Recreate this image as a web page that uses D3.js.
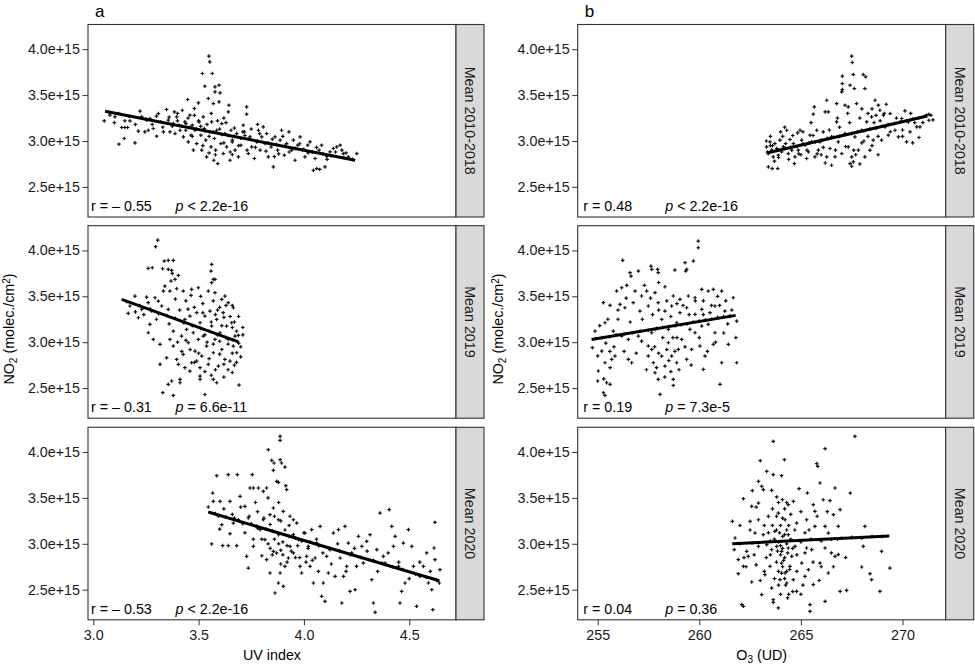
<!DOCTYPE html>
<html>
<head>
<meta charset="utf-8">
<script src="https://cdn.jsdelivr.net/npm/d3@7"></script>
<style>
  body { margin: 0; background: #fff; }
  text { font-family: "Liberation Sans", Arial, Helvetica, sans-serif; }
</style>
</head>
<body>
<div id="chart"></div>
<script>
// NO2 values are in units of 1e15 molec./cm2
var rowLabels = ["Mean 2010-2018", "Mean 2019", "Mean 2020"];
var panelLetters = ["a", "b"];
var yTicks = [2.5, 3.0, 3.5, 4.0];
var uvTicks = [3.0, 3.5, 4.0, 4.5];
var o3Ticks = [255, 260, 265, 270];

var uvStats = [["r = \u2013 0.55", "< 2.2e-16"], ["r = \u2013 0.31", "= 6.6e-11"], ["r = \u2013 0.53", "< 2.2e-16"]];
var o3Stats = [["r = 0.48", "< 2.2e-16"], ["r = 0.19", "= 7.3e-5"], ["r = 0.04", "= 0.36"]];

// fitted lines [x0, y0, x1, y1]
var uvFits = [[3.056, 3.325, 4.243, 2.79], [3.135, 3.466, 3.689, 3.004], [3.546, 3.346, 4.643, 2.598]];
var o3Fits = [[263.32, 2.87, 271.22, 3.273], [254.70, 3.03, 261.79, 3.292], [261.62, 3.0, 269.35, 3.085]];

var uv2010 = [[3.052,3.219],[3.079,3.281],[3.103,3.263],[3.135,3.147],[3.150,3.147],[3.163,3.147],[3.147,3.027],[3.122,2.965],[3.174,3.219],[3.198,2.98],[3.214,3.107],[3.222,3.325],[3.230,3.263],[3.245,3.099],[3.253,3.227],[3.261,3.117],[3.269,3.245],[3.285,3.136],[3.301,3.052],[3.309,3.299],[3.333,3.099],[3.348,3.343],[3.356,3.227],[3.364,3.099],[3.375,3.161],[3.385,3.317],[3.388,3.081],[3.396,3.263],[3.407,3.172],[3.412,3.117],[3.423,3.335],[3.428,3.045],[3.435,3.208],[3.439,3.117],[3.448,3.452],[3.451,2.99],[3.459,3.281],[3.464,3.063],[3.470,3.172],[3.475,2.9],[3.480,3.354],[3.483,3.117],[3.491,2.972],[3.499,3.415],[3.502,3.208],[3.511,3.063],[3.515,2.9],[3.518,3.735],[3.522,3.263],[3.527,3.136],[3.53,3.597],[3.534,3.009],[3.538,2.827],[3.546,3.463],[3.549,3.924],[3.553,3.862],[3.554,3.099],[3.559,2.936],[3.562,3.208],[3.565,3.735],[3.570,3.408],[3.572,2.79],[3.575,3.027],[3.578,3.59],[3.578,3.535],[3.581,2.9],[3.586,3.117],[3.591,2.754],[3.597,3.608],[3.597,3.426],[3.602,3.524],[3.606,2.972],[3.610,3.19],[3.617,2.863],[3.625,3.081],[3.633,2.936],[3.641,3.317],[3.644,3.39],[3.649,2.79],[3.654,3.117],[3.660,3.009],[3.673,2.9],[3.681,3.081],[3.689,2.827],[3.701,2.954],[3.712,3.172],[3.717,3.099],[3.728,3.372],[3.728,3.292],[3.736,2.863],[3.744,3.045],[3.752,2.936],[3.765,2.809],[3.776,2.99],[3.784,3.117],[3.792,2.9],[3.8,3.045],[3.807,3.154],[3.815,2.972],[3.823,3.081],[3.831,2.827],[3.844,2.936],[3.855,2.718],[3.863,3.045],[3.875,2.9],[3.887,3.009],[3.894,3.117],[3.907,2.845],[3.918,2.972],[3.929,3.099],[3.942,2.9],[3.95,3.009],[3.958,2.79],[3.971,2.954],[3.982,3.045],[3.993,2.9],[4.005,2.827],[4.018,2.954],[4.029,2.99],[4.04,2.882],[4.053,2.809],[4.061,2.7],[4.072,2.9],[4.084,2.954],[4.1,2.718],[4.108,2.834],[4.124,2.882],[4.14,2.918],[4.156,2.936],[4.172,2.954],[4.18,2.9],[4.187,2.863],[4.211,2.827],[4.251,2.863],[4.045,2.68],[4.075,2.69],
  [3.08,3.31],[3.12,3.30],[3.17,3.27],[3.25,3.24],[3.32,3.21],[3.38,3.19],[3.42,3.16],[3.46,3.15],[3.49,3.13],[3.53,3.11],[3.57,3.10],[3.61,3.07],[3.64,3.06],[3.67,3.05],[3.70,3.03],[3.74,3.02],[3.78,3.0],[3.83,2.98],[3.87,2.96],[3.91,2.95],[3.96,2.92],[4.0,2.91],[4.04,2.88],[4.09,2.86],[4.13,2.84],[4.19,2.82],[3.44,3.19],[3.51,3.16],[3.55,3.05],[3.60,3.13],[3.66,2.99],[3.72,3.06],
  [3.36,3.26],[3.40,3.22],[3.45,3.25],[3.47,3.05],[3.50,3.22],[3.52,2.95],[3.54,3.18],[3.56,3.30],[3.58,2.85],[3.59,3.22],[3.62,2.98],[3.63,3.20],[3.65,2.88],[3.67,3.14],[3.69,2.95],[3.71,3.10],[3.73,2.90],[3.75,3.13],[3.77,2.93],[3.79,3.08],[3.82,2.89],[3.85,3.02],[3.88,2.86],[3.90,3.05],[3.93,2.88],[3.98,2.97],[4.02,2.87],[4.06,2.93],[4.11,2.80],[4.15,2.88],[4.20,2.87],[4.23,2.80],[3.20,3.18],[3.28,3.18],[3.33,3.15],[3.30,3.27],[3.15,3.22],[3.10,3.20],[3.40,3.30],[3.48,3.28],[3.62,3.25],[3.78,3.18],[3.55,2.87],[3.66,2.85],[3.86,2.83]];

var uv2019 = [[3.306,4.112],[3.296,4.04],[3.261,3.804],[3.28,3.811],[3.337,3.884],[3.356,3.891],[3.38,3.891],[3.329,3.80],[3.356,3.793],[3.372,3.782],[3.375,3.749],[3.404,3.727],[3.388,3.684],[3.369,3.666],[3.34,3.611],[3.333,3.557],[3.364,3.557],[3.396,3.582],[3.427,3.557],[3.467,3.575],[3.499,3.593],[3.464,3.51],[3.562,3.847],[3.559,3.775],[3.57,3.684],[3.578,3.684],[3.562,3.648],[3.546,3.557],[3.578,3.539],[3.61,3.466],[3.625,3.502],[3.641,3.43],[3.665,3.375],[3.198,3.502],[3.253,3.491],[3.174,3.394],[3.166,3.314],[3.214,3.266],[3.23,3.357],[3.261,3.43],[3.277,3.339],[3.293,3.484],[3.309,3.448],[3.325,3.394],[3.356,3.357],[3.269,3.194],[3.261,3.103],[3.285,3.03],[3.317,2.976],[3.348,2.83],[3.317,2.758],[3.364,3.03],[3.38,2.958],[3.396,2.812],[3.404,2.758],[3.427,2.867],[3.419,3.067],[3.435,3.248],[3.443,3.139],[3.459,3.285],[3.451,2.994],[3.475,3.103],[3.483,2.903],[3.491,3.321],[3.499,3.03],[3.507,3.212],[3.507,2.722],[3.507,2.631],[3.507,2.595],[3.515,2.849],[3.522,3.067],[3.53,3.285],[3.538,2.958],[3.546,2.758],[3.554,3.339],[3.562,3.176],[3.57,2.885],[3.578,3.03],[3.586,3.248],[3.594,2.74],[3.602,3.103],[3.61,2.921],[3.617,3.321],[3.625,2.812],[3.633,3.176],[3.641,3.03],[3.649,2.794],[3.657,3.212],[3.665,2.958],[3.673,3.067],[3.681,2.885],[3.689,3.074],[3.692,2.533],[3.586,2.558],[3.57,2.595],[3.53,2.43],[3.33,2.45],[3.38,2.42],[3.356,2.54],[3.412,2.595],[3.412,2.558],[3.372,2.577],[3.459,2.685],[3.491,2.794],[3.435,2.722],[3.467,2.776],
  [3.16,3.44],[3.22,3.40],[3.27,3.36],[3.31,3.31],[3.35,3.29],[3.39,3.26],[3.43,3.21],[3.47,3.18],[3.51,3.15],[3.55,3.12],[3.59,3.08],[3.63,3.05],[3.66,3.03],[3.69,2.99],[3.45,3.36],[3.52,3.32],[3.58,3.30],[3.62,3.27],[3.54,3.00],[3.57,2.98],[3.60,3.01],[3.64,2.70],[3.67,2.75],[3.70,2.84],[3.68,3.12],[3.71,3.16],[3.66,3.40],[3.60,3.38],
  [3.41,3.35],[3.44,3.02],[3.46,2.92],[3.48,3.38],[3.50,2.88],[3.52,3.42],[3.53,3.08],[3.55,2.82],[3.56,3.22],[3.58,2.70],[3.59,3.35],[3.60,2.87],[3.61,3.18],[3.62,2.76],[3.63,3.40],[3.64,2.98],[3.65,3.28],[3.66,2.88],[3.67,3.22],[3.68,2.78],[3.69,3.28],[3.70,2.95],[3.71,3.08],[3.40,3.00],[3.42,2.90],[3.38,3.12],[3.36,3.20],[3.30,3.25],[3.24,3.30],[3.20,3.33],[3.48,2.78],[3.53,2.68],[3.56,2.64],[3.62,2.62],[3.66,2.67],[3.57,3.45],[3.51,3.50],[3.44,3.45],[3.39,3.47],[3.66,3.16]];

var uv2020 = [[3.887,4.17],[3.887,4.127],[3.831,4.025],[3.847,3.909],[3.858,3.88],[3.887,3.916],[3.894,3.88],[3.91,3.836],[3.855,3.80],[3.871,3.68],[3.879,3.669],[3.914,3.633],[3.918,3.59],[3.586,3.742],[3.641,3.753],[3.684,3.753],[3.755,3.753],[3.744,3.608],[3.76,3.608],[3.784,3.608],[3.807,3.571],[3.823,3.608],[3.567,3.553],[3.57,3.462],[3.602,3.462],[3.649,3.462],[3.697,3.517],[3.72,3.408],[3.594,3.30],[3.61,3.208],[3.665,3.226],[3.689,3.262],[3.736,3.281],[3.776,3.19],[3.807,3.262],[3.839,3.317],[3.855,3.39],[3.879,3.262],[3.902,3.353],[3.934,3.30],[3.95,3.262],[3.966,3.226],[3.546,3.401],[3.562,2.998],[3.614,2.98],[3.641,2.98],[3.681,2.98],[3.649,3.11],[3.728,2.863],[3.736,2.736],[3.76,2.972],[3.792,3.154],[3.815,3.045],[3.823,2.827],[3.839,2.682],[3.855,2.918],[3.863,2.464],[3.879,2.573],[3.902,2.537],[3.887,2.682],[3.91,2.754],[3.926,2.845],[3.934,2.972],[3.95,2.90],[3.974,3.045],[3.982,2.754],[3.989,2.682],[4.005,3.117],[4.013,2.863],[4.021,2.972],[4.029,2.754],[4.037,3.154],[4.045,2.573],[4.053,2.845],[4.061,3.008],[4.069,2.70],[4.077,3.19],[4.084,2.428],[4.092,2.573],[4.10,2.373],[4.108,2.863],[4.116,2.682],[4.124,2.936],[4.14,3.117],[4.148,2.645],[4.164,3.154],[4.172,2.845],[4.18,2.355],[4.188,2.645],[4.195,3.19],[4.203,2.754],[4.211,3.008],[4.219,2.482],[4.227,2.90],[4.243,2.50],[4.25,2.754],[4.259,3.081],[4.275,2.972],[4.282,2.79],[4.298,3.027],[4.314,3.099],[4.322,2.609],[4.33,2.355],[4.338,2.253],[4.346,2.936],[4.361,3.335],[4.377,2.863],[4.385,2.79],[4.405,3.372],[4.417,3.19],[4.425,2.972],[4.433,3.081],[4.449,2.754],[4.456,2.355],[4.464,2.482],[4.472,3.008],[4.48,2.573],[4.496,3.154],[4.512,2.972],[4.52,2.754],[4.535,2.319],[4.551,2.645],[4.567,2.754],[4.583,2.90],[4.591,2.573],[4.607,2.50],[4.612,2.282],[4.618,2.954],[4.622,2.827],[4.622,3.234],[4.646,2.718],[4.643,2.573],
  [3.58,3.33],[3.63,3.29],[3.67,3.28],[3.71,3.22],[3.75,3.22],[3.78,3.17],[3.82,3.16],[3.85,3.14],[3.88,3.10],[3.90,3.02],[3.92,2.98],[3.89,2.93],[3.87,2.90],[3.93,3.08],[3.96,3.06],[3.99,3.03],[4.03,3.02],[4.07,2.98],[4.12,2.95],[4.17,2.92],[4.22,2.88],[4.27,2.85],[4.33,2.82],[4.37,2.79],[4.42,2.75],[4.47,2.72],[4.53,2.67],[4.58,2.64],[4.63,2.60],[3.96,2.85],[4.01,2.80],[3.84,2.95],[3.80,2.87],[3.76,3.05],[3.86,3.05],[3.89,2.78],
  [3.78,3.35],[3.80,3.05],[3.81,3.28],[3.83,3.00],[3.84,3.21],[3.85,2.88],[3.86,3.30],[3.88,3.00],[3.89,3.25],[3.90,2.88],[3.91,3.15],[3.92,2.80],[3.93,3.20],[3.94,2.92],[3.95,3.10],[3.97,2.98],[3.98,2.85],[4.00,3.12],[4.02,2.95],[4.04,2.82],[4.06,3.05],[4.09,2.90],[4.13,2.78],[4.16,3.00],[4.20,2.70],[4.24,2.95],[4.30,2.92],[4.35,2.70],[4.40,2.90],[4.45,2.80],[4.50,2.62],[4.55,2.80],[4.60,2.70],[3.62,3.38],[3.66,3.32],[3.70,3.40],[3.74,3.30],[3.60,3.16],[3.77,3.45],[3.88,3.45],[3.83,3.50],[3.72,3.12]];

var o32010 = [[267.5,3.924],[267.53,3.855],[267.04,3.706],[267.58,3.724],[268.07,3.724],[268.19,3.699],[267.04,3.626],[267.04,3.56],[267.01,3.535],[267.42,3.608],[267.63,3.571],[268.15,3.571],[265.66,3.372],[265.61,3.292],[266.27,3.444],[266.19,3.317],[266.35,3.317],[266.76,3.408],[267.17,3.39],[267.33,3.372],[267.74,3.408],[268.65,3.444],[268.81,3.39],[268.89,3.335],[269.06,3.281],[269.39,3.299],[270.12,3.328],[271.19,3.281],[271.3,3.226],[270.86,3.154],[270.7,3.154],[270.37,3.099],[270.81,3.038],[270.2,2.99],[269.63,3.117],[269.8,3.045],[269.3,3.063],[268.97,3.009],[269.14,3.154],[268.48,3.263],[268.24,3.208],[267.99,3.117],[267.66,3.045],[267.83,2.90],[268.15,2.827],[268.4,2.90],[268.56,3.009],[267.5,2.827],[267.58,2.773],[267.33,2.936],[267.17,3.081],[267.01,2.863],[266.84,2.99],[266.76,3.208],[266.68,2.827],[266.51,3.045],[266.43,2.918],[266.27,2.827],[266.1,3.099],[265.94,2.99],[265.86,2.90],[265.78,3.117],[265.69,2.827],[265.53,2.99],[265.45,3.063],[265.37,2.882],[265.28,2.809],[265.2,2.954],[265.04,3.009],[264.96,3.117],[264.87,2.90],[264.84,3.088],[264.71,2.827],[264.63,2.972],[264.55,2.90],[264.46,3.016],[264.38,2.863],[264.3,3.117],[264.25,2.972],[264.14,2.936],[264.05,2.882],[263.97,3.009],[263.89,2.845],[263.81,2.918],[263.72,2.972],[263.64,2.827],[263.56,2.90],[263.48,2.99],[263.4,2.863],[263.31,2.936],[263.4,2.718],[263.59,2.70],[263.86,2.70],[264.68,2.754],[266.51,2.736],[267.42,2.754],[267.5,2.725],[269.96,3.245],[270.29,3.208],
  [263.35,2.88],[263.6,2.89],[263.9,2.90],[264.2,2.92],[264.5,2.93],[264.8,2.94],[265.1,2.97],[265.4,2.98],[265.7,2.99],[266.0,3.01],[266.3,3.03],[266.6,3.04],[266.9,3.05],[267.2,3.07],[267.5,3.08],[267.8,3.10],[268.1,3.11],[268.4,3.13],[268.7,3.14],[269.0,3.16],[269.3,3.18],[269.6,3.19],[269.9,3.21],[270.2,3.22],[270.5,3.24],[270.8,3.25],[271.1,3.27],[271.5,3.23],[271.3,3.29],[268.6,3.20],[268.9,3.22],[268.3,3.05],[268.0,2.98],[267.7,2.85],[268.5,3.35],[268.7,3.28],[270.0,3.12],[263.5,3.05],[264.0,3.10],[263.7,2.78],[265.0,2.85],[266.0,2.85],[266.2,2.76],[267.9,2.75],
  [263.6,2.95],[263.9,2.82],[264.1,3.05],[264.4,2.80],[264.6,3.06],[264.9,2.86],[265.1,3.10],[265.3,2.90],[265.6,3.06],[265.8,2.86],[266.1,2.93],[266.4,3.12],[266.7,2.90],[266.9,3.15],[267.2,2.94],[267.4,3.20],[267.6,2.90],[267.9,3.25],[268.1,3.00],[268.3,3.30],[268.5,2.95],[268.8,3.05],[269.1,3.30],[269.4,3.10],[269.7,3.25],[270.0,3.05],[270.4,3.30],[270.6,3.20],[271.0,3.20],[271.4,3.28],[263.3,3.0],[263.5,2.95],[264.2,3.15],[265.5,3.20],[266.8,3.25],[267.3,3.30],[269.2,3.40],[268.0,3.35],[270.5,2.98],[268.8,2.85]];

var o32019 = [[259.95,4.102],[259.95,4.029],[256.23,3.891],[257.62,3.829],[257.66,3.793],[257.95,3.793],[257.98,3.757],[258.8,3.786],[259.3,3.866],[259.38,3.793],[259.33,3.775],[259.71,3.884],[256.59,3.757],[256.64,3.72],[257.0,3.775],[256.43,3.619],[256.18,3.593],[256.84,3.557],[257.16,3.503],[257.41,3.557],[257.82,3.539],[258.31,3.604],[258.72,3.503],[259.05,3.466],[259.46,3.503],[259.79,3.484],[260.12,3.575],[260.44,3.557],[260.69,3.575],[261.1,3.557],[261.67,3.484],[255.28,3.43],[255.61,3.401],[255.93,3.557],[256.1,3.412],[256.34,3.375],[256.75,3.43],[257.08,3.339],[257.49,3.394],[257.98,3.43],[258.31,3.339],[258.64,3.394],[259.05,3.321],[259.38,3.375],[259.79,3.303],[260.12,3.357],[260.53,3.321],[260.77,3.394],[261.26,3.339],[261.51,3.285],[261.84,3.23],[261.84,2.776],[261.02,2.54],[260.28,2.849],[260.69,2.976],[261.1,2.776],[261.43,2.976],[260.77,3.103],[260.44,3.194],[255.36,3.212],[255.77,3.121],[254.87,3.121],[254.74,2.94],[255.2,2.903],[255.36,2.776],[255.69,2.813],[255.61,2.722],[255.03,2.686],[255.0,2.577],[255.44,2.558],[255.28,2.449],[255.36,2.42],[255.61,2.54],[255.85,2.849],[256.51,2.813],[256.67,2.776],[257.16,3.012],[257.49,2.958],[257.49,2.849],[257.74,2.776],[257.82,2.667],[257.98,2.595],[258.07,2.431],[257.9,2.722],[257.66,2.921],[258.15,2.849],[258.31,2.74],[258.48,2.994],[258.64,2.849],[258.72,2.595],[258.72,2.529],[258.89,2.776],[258.97,2.921],[259.13,3.03],[259.38,2.813],[259.62,2.921],[259.79,3.103],[260.03,2.958],[260.2,2.704],[260.12,3.176],[259.54,3.14],[258.48,3.14],[257.82,3.14],[257.0,3.067],[256.51,3.03],[256.18,3.067],[258.15,3.248],[257.66,3.103],[258.89,3.212],
  [254.9,3.04],[255.2,3.05],[255.6,3.06],[255.9,3.08],[256.3,3.09],[256.7,3.10],[257.1,3.12],[257.5,3.13],[257.9,3.15],[258.2,3.16],[258.5,3.17],[258.8,3.18],[259.1,3.19],[259.4,3.20],[259.7,3.22],[260.0,3.23],[260.3,3.24],[260.6,3.25],[260.9,3.27],[261.2,3.28],[261.5,3.28],[258.7,3.05],[258.4,2.92],[258.6,2.68],[258.0,2.88],[257.7,3.30],[256.0,3.25],[255.4,2.99],[255.0,2.85],[258.9,3.42],[260.9,3.50],[261.3,3.45],[260.2,3.45],
  [255.1,3.18],[255.5,3.25],[255.8,2.95],[256.0,3.35],[256.3,2.90],[256.6,3.22],[256.9,2.88],[257.2,3.25],[257.4,2.70],[257.6,3.48],[257.8,2.95],[258.0,3.35],[258.2,3.05],[258.3,2.62],[258.4,3.45],[258.5,2.80],[258.6,3.28],[258.8,2.90],[258.9,3.05],[259.0,2.70],[259.2,3.40],[259.3,2.95],[259.5,3.30],[259.6,2.75],[259.8,3.45],[260.0,3.05],[260.2,3.30],[260.4,2.90],[260.6,3.40],[260.8,3.00],[261.0,3.40],[261.2,3.10],[261.4,3.20],[261.6,3.35],[261.8,3.05],[255.3,2.60],[255.6,2.90],[256.4,3.48],[257.3,3.62],[258.0,3.65]];

var o32020 = [[267.66,4.17],[263.64,4.116],[266.19,4.036],[264.19,3.916],[263.0,3.905],[265.78,3.873],[265.83,3.844],[263.32,3.789],[263.64,3.753],[264.05,3.742],[262.91,3.68],[263.07,3.626],[263.15,3.59],[262.61,3.579],[263.56,3.582],[264.91,3.60],[265.32,3.553],[265.94,3.662],[266.68,3.608],[267.43,3.553],[266.1,3.48],[266.43,3.47],[262.17,3.491],[262.58,3.408],[262.91,3.444],[263.81,3.51],[264.09,3.48],[264.38,3.426],[264.63,3.462],[265.61,3.426],[265.69,3.353],[266.93,3.372],[266.6,3.317],[261.63,3.244],[262.5,3.244],[262.91,3.262],[263.4,3.299],[263.89,3.335],[264.22,3.262],[264.79,3.226],[265.28,3.262],[265.69,3.19],[266.19,3.19],[266.84,3.19],[268.15,3.19],[266.35,3.117],[262.74,3.117],[263.15,3.099],[263.72,3.136],[264.38,3.099],[261.76,3.063],[261.72,2.936],[262.33,2.918],[262.91,2.972],[263.32,2.99],[263.56,2.936],[263.81,2.972],[264.05,2.918],[264.38,2.954],[264.71,2.972],[265.28,2.954],[265.53,2.936],[266.19,2.954],[266.84,2.882],[268.07,2.972],[268.97,2.918],[269.38,2.736],[267.99,2.747],[268.4,2.674],[268.48,2.609],[268.89,2.482],[266.93,2.482],[267.25,2.493],[261.92,2.827],[262.41,2.863],[262.17,2.754],[261.92,2.674],[262.58,2.584],[262.09,2.337],[262.17,2.319],[263.07,2.446],[263.23,2.664],[263.48,2.754],[263.56,2.518],[263.64,2.391],[263.64,2.362],[263.89,2.301],[263.97,2.609],[264.05,2.79],[264.22,2.682],[264.3,2.573],[264.35,2.41],[264.46,2.754],[264.55,2.863],[264.63,2.609],[264.79,2.482],[265.04,2.79],[265.2,2.645],[265.37,2.718],[265.45,2.337],[265.45,2.264],[265.61,2.555],[265.94,2.79],[266.19,2.373],[266.35,2.682],[266.68,2.863],
  [263.7,3.05],[263.9,3.02],[264.1,3.08],[264.3,3.0],[264.0,2.88],[264.2,2.85],[263.8,2.8],[264.1,2.75],[264.3,2.7],[263.9,2.7],[264.2,2.62],[263.6,3.2],[264.0,3.2],[264.3,3.15],[263.8,3.3],[264.2,3.38],[264.5,3.05],[263.5,3.03],[263.3,2.85],[262.7,2.88],[262.6,3.01],[262.0,3.0],[265.0,3.02],[265.5,3.05],[266.0,3.03],[266.5,3.05],[267.0,3.06],[267.5,3.07],[268.0,3.06],[268.5,3.08],[269.0,3.08],[265.2,3.12],[264.8,2.88],[265.1,2.55],[264.6,2.48],[263.9,2.55],[264.0,2.45],[262.8,2.77],[263.2,2.7],[265.9,2.6],[266.6,2.75],[264.1,2.95],[263.95,3.12],
  [263.4,3.12],[263.5,2.88],[263.6,3.38],[263.7,2.62],[263.8,3.15],[263.85,2.92],[263.9,3.45],[264.0,2.98],[264.05,2.68],[264.1,3.28],[264.15,2.82],[264.2,3.10],[264.25,2.55],[264.3,3.45],[264.35,2.90],[264.4,3.20],[264.45,2.72],[264.5,3.32],[264.6,2.95],[264.7,3.15],[264.8,2.70],[265.0,3.35],[265.2,2.90],[265.4,3.15],[265.6,2.80],[265.8,3.30],[266.0,2.75],[266.3,3.35],[266.5,2.90],[266.8,3.05],[267.2,2.85],[262.5,3.15],[262.8,3.40],[263.0,2.60],[263.2,3.20],[262.3,2.75],[262.0,3.20],[262.2,2.85],[264.4,2.45],[265.0,2.45]];

var uvSeries = [uv2010, uv2019, uv2020];
var o3Series = [o32010, o32019, o32020];

// layout
var width = 975, height = 667;
var rowTops = [24.5, 225.7, 427.3], rowH = 192.5;
var plotW = 368, stripW = 28;
var colLefts = [88, 577.7];
var fs = 14.3;

var svg = d3.select("#chart").append("svg")
    .attr("width", width)
    .attr("height", height);

var yScale = d3.scaleLinear().domain([2.172, 4.269]).range([rowH, 0]);
var xScales = [
    d3.scaleLinear().domain([2.975, 4.722]).range([0, plotW]),
    d3.scaleLinear().domain([254.016, 272.126]).range([0, plotW])
];
var cols = [
    {series: uvSeries, fits: uvFits, stats: uvStats, ticks: uvTicks, fmt: d3.format(".1f"), rx: 3},
    {series: o3Series, fits: o3Fits, stats: o3Stats, ticks: o3Ticks, fmt: d3.format("d"), rx: 5.5}
];

var plus = "M-1.8,0H1.8M0,-1.8V1.8";

cols.forEach(function(col, c) {
    var x = xScales[c];

    svg.append("text")
        .attr("x", colLefts[c] + 7)
        .attr("y", 16.5)
        .style("font-size", "17px")
        .attr("fill", "#000")
        .text(panelLetters[c]);

    rowTops.forEach(function(top, r) {
        var g = svg.append("g")
            .attr("transform", "translate(" + colLefts[c] + "," + top + ")");

        // y axis
        var ya = g.append("g")
            .call(d3.axisLeft(yScale).tickValues(yTicks).tickSize(5.5).tickPadding(2.5)
                .tickFormat(function(d) { return d3.format(".1e")(d * 1e15); }));
        ya.select(".domain").remove();
        ya.selectAll("line").attr("stroke", "#333");
        ya.selectAll("text").style("font-size", fs + "px").attr("fill", "#1a1a1a")
            .style("font-family", "'Liberation Sans', Arial, sans-serif");

        // x axis on bottom row
        if (r === 2) {
            var xa = g.append("g")
                .attr("transform", "translate(0," + rowH + ")")
                .call(d3.axisBottom(x).tickValues(col.ticks).tickSize(5.5).tickPadding(5)
                    .tickFormat(col.fmt));
            xa.select(".domain").remove();
            xa.selectAll("line").attr("stroke", "#333");
            xa.selectAll("text").style("font-size", fs + "px").attr("fill", "#1a1a1a")
                .style("font-family", "'Liberation Sans', Arial, sans-serif");
        }

        // points
        g.append("g")
            .selectAll("path")
            .data(col.series[r])
            .enter()
            .append("path")
                .attr("d", plus)
                .attr("transform", function(d) { return "translate(" + x(d[0]) + "," + yScale(d[1]) + ")"; })
                .attr("stroke", "#111")
                .attr("stroke-width", 1.2)
                .attr("fill", "none");

        // fitted line
        var f = col.fits[r];
        g.append("line")
            .attr("x1", x(f[0])).attr("y1", yScale(f[1]))
            .attr("x2", x(f[2])).attr("y2", yScale(f[3]))
            .attr("stroke", "#000")
            .attr("stroke-width", 3);

        // stats
        g.append("text")
            .attr("x", col.rx)
            .attr("y", rowH - 6)
            .style("font-size", fs + "px")
            .attr("fill", "#000")
            .text(col.stats[r][0]);
        var pt = g.append("text")
            .attr("x", 87.5)
            .attr("y", rowH - 6)
            .style("font-size", fs + "px")
            .attr("fill", "#000");
        pt.append("tspan").style("font-style", "italic").text("p");
        pt.append("tspan").text(" " + col.stats[r][1]);

        // panel border
        g.append("rect")
            .attr("width", plotW).attr("height", rowH)
            .attr("fill", "none")
            .attr("stroke", "#333")
            .attr("stroke-width", 1.1);

        // strip
        g.append("rect")
            .attr("x", plotW).attr("width", stripW).attr("height", rowH)
            .attr("fill", "#d9d9d9")
            .attr("stroke", "#333")
            .attr("stroke-width", 1.1);
        g.append("text")
            .attr("transform", "translate(" + (plotW + stripW / 2) + "," + (rowH / 2) + ") rotate(90)")
            .attr("text-anchor", "middle")
            .attr("dy", "0.35em")
            .style("font-size", fs + "px")
            .attr("fill", "#1a1a1a")
            .text(rowLabels[r]);
    });

    // y title on middle row
    var yt = svg.append("text")
        .attr("transform", "translate(" + (colLefts[c] - 74.5) + ",329) rotate(-90)")
        .attr("text-anchor", "middle")
        .style("font-size", fs + "px")
        .attr("fill", "#000");
    yt.append("tspan").text("NO");
    yt.append("tspan").attr("dy", 3).style("font-size", "10px").text("2");
    yt.append("tspan").attr("dy", -3).text(" (molec./cm");
    yt.append("tspan").attr("dy", -4).style("font-size", "10px").text("2");
    yt.append("tspan").attr("dy", 4).text(")");

    // x title
    var xt = svg.append("text")
        .attr("x", colLefts[c] + plotW / 2)
        .attr("y", 660)
        .attr("text-anchor", "middle")
        .style("font-size", fs + "px")
        .attr("fill", "#000");
    if (c === 0) {
        xt.text("UV index");
    } else {
        xt.append("tspan").text("O");
        xt.append("tspan").attr("dy", 3).style("font-size", "10px").text("3");
        xt.append("tspan").attr("dy", -3).text(" (UD)");
    }
});
</script>
</body>
</html>
